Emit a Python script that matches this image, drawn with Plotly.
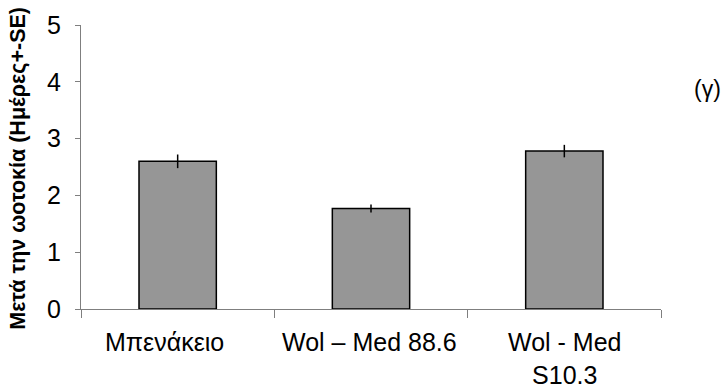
import plotly.graph_objects as go

categories = ["Μπενάκειο", "Wol – Med 88.6", "Wol - Med<br>S10.3"]
values = [2.60, 1.77, 2.78]
errors = [0.12, 0.07, 0.11]
y_ticks = [0, 1, 2, 3, 4, 5]
label_xshift = [-13, -2, 0]

fig = go.Figure()
fig.add_trace(go.Bar(
    x=categories, y=values, width=0.4,
    marker=dict(color="#969696", line=dict(color="#000000", width=1.5)),
    error_y=dict(type="data", array=errors, visible=True, color="#000000", thickness=1.5, width=0),
))

L, R, T, B = 81, 661, 25, 309.5
annotations = [
    dict(text="(γ)", x=(707 - L) / (R - L), y=(B - 89) / (B - T), xref="paper", yref="paper",
         xanchor="center", yanchor="middle", showarrow=False, font=dict(size=23)),
    dict(text="<b>Μετά την ωοτοκία (Ημέρες+-SE)</b>", textangle=-90,
         x=(18 - L) / (R - L), y=(B - 169) / (B - T), xref="paper", yref="paper",
         xanchor="center", yanchor="middle", showarrow=False, font=dict(size=21.5)),
]
for cat, dx in zip(categories, label_xshift):
    annotations.append(dict(text=cat, x=cat, xref="x", y=0, yref="paper", xanchor="center",
                            yanchor="top", yshift=-17, xshift=dx, showarrow=False,
                            font=dict(size=25)))

fig.update_layout(
    width=726, height=392,
    margin=dict(l=L, r=726 - R, t=T, b=392 - B, autoexpand=False),
    plot_bgcolor="white", paper_bgcolor="white",
    showlegend=False,
    font=dict(family="Liberation Sans, Arial", color="#000000"),
    xaxis=dict(
        showline=True, linecolor="#7f7f7f", linewidth=1,
        ticks="outside", ticklen=8, tickcolor="#7f7f7f", tickson="boundaries",
        showticklabels=False, showgrid=False,
    ),
    yaxis=dict(
        range=[0, 5], tickvals=y_ticks, showline=True, linecolor="#7f7f7f", linewidth=1,
        ticks="outside", ticklen=5, tickcolor="#7f7f7f",
        tickfont=dict(size=25), showgrid=False, zeroline=False, ticklabelstandoff=9,
    ),
    annotations=annotations,
)

fig.write_html("out.html", config={"displayModeBar": False})
with open("out.html", encoding="utf-8") as f:
    html = f.read()
html = html.replace("<head>", "<head><style>html,body{margin:0;padding:0;overflow:hidden;}</style>", 1)
with open("out.html", "w", encoding="utf-8") as f:
    f.write(html)
